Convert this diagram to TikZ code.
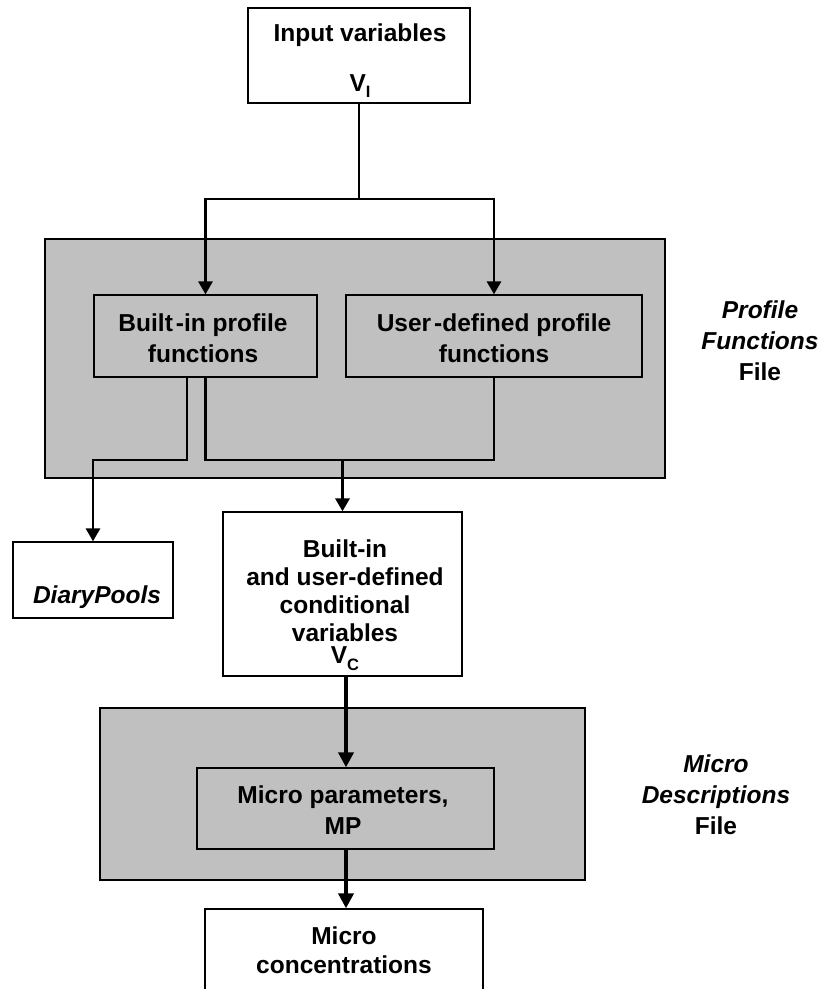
\documentclass[tikz,border=0pt]{standalone}
\usepackage{fontspec}
\setmainfont{Liberation Sans}
\usetikzlibrary{arrows.meta}
\definecolor{panelgray}{HTML}{C0C0C0}
\newcommand\subtxt[2][6pt]{\raisebox{-#1}{\fontsize{16.5}{16.5}\selectfont #2}}
\begin{document}
\begin{tikzpicture}[x=1pt,y=-1pt,
  box/.style={draw=black, line width=1.3pt, fill=white, inner sep=0pt},
  graybox/.style={box, fill=panelgray},
  txt/.style={font=\fontsize{24.5}{31}\selectfont\bfseries, align=center, inner sep=0pt, anchor=base},
  wire/.style={line width=2.9pt, line join=miter},
  conn/.style={wire, -{Triangle[width=14pt,length=13pt]}},
  thickconn/.style={line width=4.3pt, -{Triangle[width=15pt,length=15pt]}}
]
\clip (0,0) rectangle (822,989);
\fill[white] (0,0) rectangle (822,989);

% panels and boxes
\node[box, minimum width=222pt, minimum height=95pt] (input) at (359,55.5) {};
\node[graybox, minimum width=620pt, minimum height=239pt] (pf) at (355,358.5) {};
\node[graybox, minimum width=223pt, minimum height=82pt] (inL) at (205.5,336) {};
\node[graybox, minimum width=296pt, minimum height=82pt] (inR) at (494,336) {};
\node[box, minimum width=160pt, minimum height=76pt] (diary) at (93,580) {};
\node[box, minimum width=239pt, minimum height=164pt] (vc) at (342.5,594) {};
\node[graybox, minimum width=485pt, minimum height=172pt] (md) at (342.5,794) {};
\node[graybox, minimum width=297pt, minimum height=81pt] (mp) at (345.5,808.5) {};
\node[box, minimum width=278pt, minimum height=101pt] (mc) at (344,959.5) {};

% texts (anchored at the baseline of their last line)
\node[txt] (tIn) at (360,91) {Input variables\\[19pt]V\subtxt{I}};
\node[txt] (tBL) at (203,362) {Built\kern3pt-in profile\\functions};
\node[txt] (tUR) at (494,362) {User\kern3pt-defined profile\\functions};
\node[txt] (tPF) at (760,380) {{\itshape Profile}\\{\itshape Functions}\\File};
\node[txt] (tDP) at (97,603) {\itshape DiaryPools};
\node[txt, font=\fontsize{24.5}{28}\selectfont\bfseries] (tVC) at (345,663)
  {Built-in\\and user-defined\\conditional\\variables\\[-6pt]V\subtxt[7pt]{C}};
\node[txt] (tMP) at (343,834) {Micro parameters,\\MP};
\node[txt] (tMD) at (716,834) {{\itshape Micro}\\{\itshape Descriptions}\\File};
\node[txt, font=\fontsize{24.5}{29}\selectfont\bfseries] (tMC) at (344,973) {Micro\\concentrations};

% connectors
\coordinate (split) at (359,199);
\coordinate (busY) at (0,460);
\coordinate (spine) at (346,0);
\coordinate (dl) at ([xshift=-18.5pt]inL.south);
\draw[wire] (input.south) -- (split);
\draw[conn] (split) -| (inL.north);
\draw[conn] (split) -| (inR.north);
\draw[conn] (dl) -- (dl |- busY) -| (diary.north);
\draw[wire] (inL.south) |- (busY -| inR.south) -- (inR.south);
\draw[wire, line width=3.4pt, -{Triangle[width=14pt,length=13pt]}] (busY -| vc.north) -- (vc.north);
\draw[thickconn] (vc.south -| spine) -- (mp.north -| spine);
\draw[thickconn] (mp.south -| spine) -- (mc.north -| spine);
\end{tikzpicture}
\end{document}
